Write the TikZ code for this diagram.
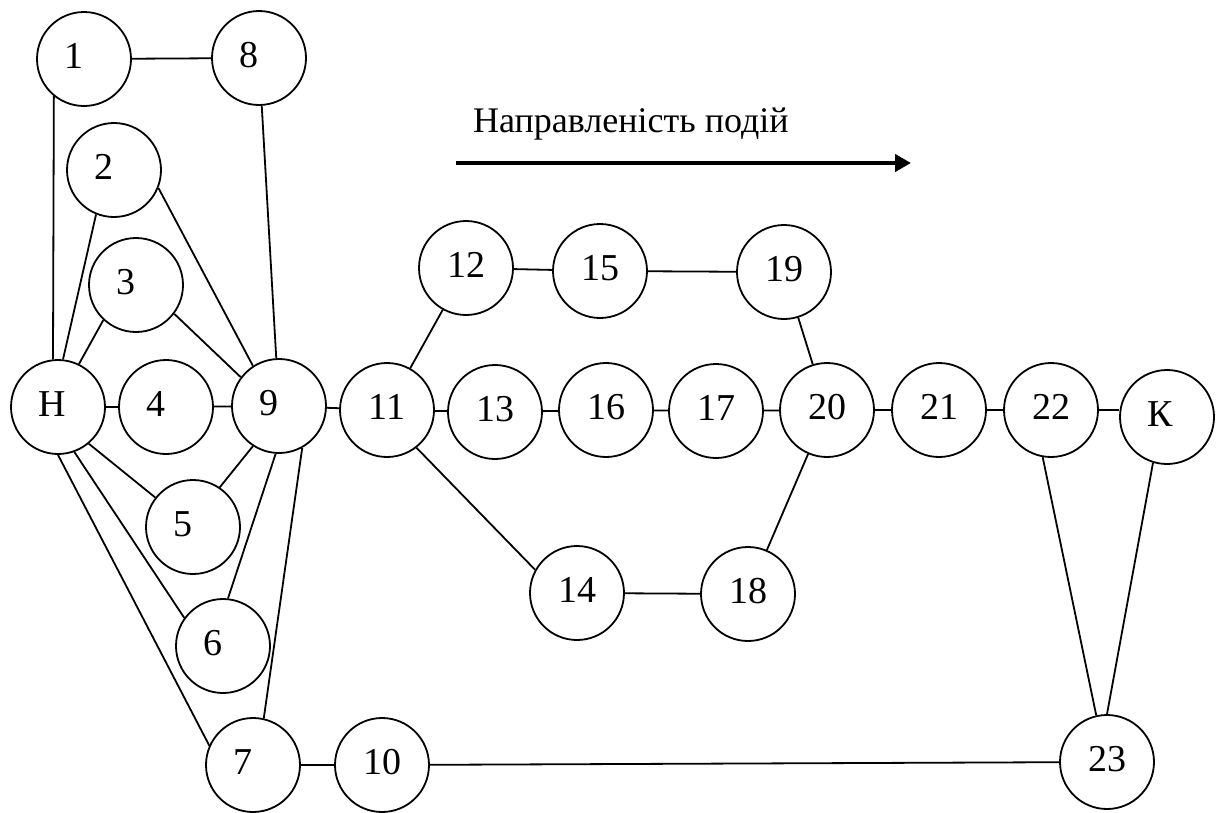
\documentclass[tikz,border=0pt]{standalone}
\usepackage{fontspec}
\setmainfont{Liberation Serif}
\usetikzlibrary{arrows.meta}
\tikzset{
  ev/.style={draw, circle, line width=1.8pt, minimum size=94pt, inner sep=0pt,
    text height=26pt, text depth=8pt, font=\fontsize{38}{45}\selectfont},
  link/.style={line width=1.8pt},
}
\newcommand{\one}[1]{\makebox[40pt][l]{#1}}
\begin{document}
\begin{tikzpicture}[x=1pt,y=-1pt]
\useasboundingbox (0,0) rectangle (1216,812);
\node[ev] (1) at (84,59) {\one{1}};
\node[ev] (8) at (259,58) {\one{8}};
\node[ev] (2) at (114,170) {\one{2}};
\node[ev] (3) at (136,285) {\one{3}};
\node[ev] (H) at (58,407) {\one{Н}};
\node[ev] (4) at (166,407) {\one{4}};
\node[ev] (9) at (279,406) {\one{9}};
\node[ev] (5) at (193,527) {\one{5}};
\node[ev] (6) at (223,646) {\one{6}};
\node[ev] (7) at (253,765) {\one{7}};
\node[ev] (10) at (382,765) {10};
\node[ev] (23) at (1107,762) {23};
\node[ev] (11) at (387,410) {11};
\node[ev] (12) at (466,268) {12};
\node[ev] (15) at (600,271) {15};
\node[ev] (19) at (784,272) {19};
\node[ev] (13) at (495,412) {13};
\node[ev] (16) at (606,410) {16};
\node[ev] (17) at (716,411) {17};
\node[ev] (20) at (827,410) {20};
\node[ev] (21) at (939,410) {21};
\node[ev] (22) at (1051,410) {22};
\node[ev] (K) at (1167,417) {\one{К}};
\node[ev] (14) at (577,593) {14};
\node[ev] (18) at (748,594) {18};

\node[anchor=base west, inner sep=0pt, font=\fontsize{36}{43}\selectfont] (title) at (473,132) {Направленість подій};
\coordinate (as) at (456,163);
\coordinate (ae) at (911,163);
\draw[line width=4pt, -{Triangle[length=16pt,width=17pt]}] (as) -- (ae);

\draw[link] (1.231) -- (H.96);
\draw[link] (2.248) -- (H.84);
\draw[link] (3.227) -- (H.64);
\draw[link] (H) -- (4);
\draw[link] (H.310) -- (5.142);
\draw[link] (H.290) -- (6.144);
\draw[link] (H.270) -- (7.156);
\draw[link] (1) -- (8);
\draw[link] (8) -- (9);
\draw[link] (2.338) -- (9.123);
\draw[link] (3.323) -- (9.143);
\draw[link] (4) -- (9);
\draw[link] (5.56) -- (9.237);
\draw[link] (6.84) -- (9.266);
\draw[link] (7.77) -- (9.299);
\draw[link] (9) -- (11);
\draw[link] (11) -- (12);
\draw[link] (11) -- (13);
\draw[link] (11.308) -- (14.151);
\draw[link] (12) -- (15);
\draw[link] (15) -- (19);
\draw[link] (19) -- (20);
\draw[link] (13) -- (16);
\draw[link] (16) -- (17);
\draw[link] (17) -- (20);
\draw[link] (14) -- (18);
\draw[link] (18) -- (20);
\draw[link] (20) -- (21);
\draw[link] (21) -- (22);
\draw[link] (22.east) -- (22.east -| K.west);
\draw[link] (22.260) -- (23.103);
\draw[link] (K.253) -- (23.90);
\draw[link] (7) -- (10);
\draw[link] (10) -- (23);
\end{tikzpicture}
\end{document}
